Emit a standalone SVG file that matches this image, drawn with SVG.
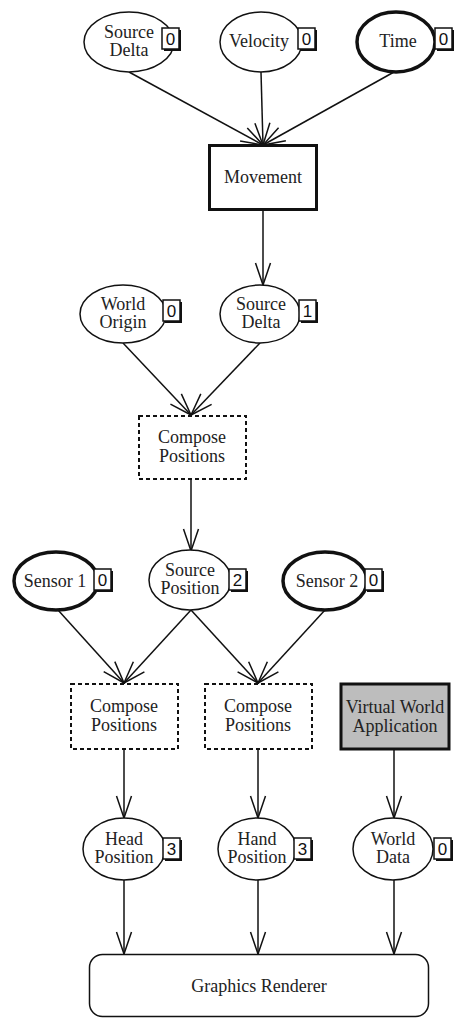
<svg xmlns="http://www.w3.org/2000/svg" width="455" height="1019" viewBox="0 0 455 1019">
  <defs>
    <style>
      .lbl { font-family: 'Liberation Serif', 'Times New Roman', serif; font-size: 18px; fill: #222; text-anchor: middle; }
      .num { font-family: 'Liberation Sans', Arial, sans-serif; font-size: 17px; fill: #111; text-anchor: middle; }
      .ell { fill: #fff; stroke: #111; stroke-width: 1.5; }
      .ell-bold { fill: #fff; stroke: #111; stroke-width: 3.5; }
      .box-dash { fill: #fff; stroke: #111; stroke-width: 2; stroke-dasharray: 4 3; }
      .edge { fill: none; stroke: #111; stroke-width: 1.5; marker-end: url(#arrow); }
      .badge-sh { fill: #111; }
      .badge { fill: #fff; stroke: #111; stroke-width: 1.5; }
    </style>
    <marker id="arrow" markerUnits="userSpaceOnUse" viewBox="-24 -9 26 18" refX="0" refY="0" markerWidth="26" markerHeight="18" orient="auto">
      <path d="M-22,-7.5 L0,0 L-22,7.5" fill="none" stroke="#111" stroke-width="1.5"/>
    </marker>
  </defs>

  <rect x="0" y="0" width="455" height="1019" fill="#fff"/>

  <!-- connectors -->
  <g id="edges">
    <line class="edge" x1="129" y1="72" x2="263" y2="145"/>
    <line class="edge" x1="261" y1="72" x2="263" y2="145"/>
    <line class="edge" x1="394" y1="72" x2="263" y2="145"/>
    <line class="edge" x1="263" y1="210" x2="263" y2="285"/>
    <line class="edge" x1="123" y1="343" x2="191" y2="415"/>
    <line class="edge" x1="260" y1="343" x2="191" y2="415"/>
    <line class="edge" x1="191" y1="479" x2="191" y2="551"/>
    <line class="edge" x1="58" y1="610" x2="124" y2="683"/>
    <line class="edge" x1="191" y1="610" x2="124" y2="683"/>
    <line class="edge" x1="191" y1="610" x2="258" y2="683"/>
    <line class="edge" x1="325" y1="610" x2="258" y2="683"/>
    <line class="edge" x1="124" y1="749" x2="124" y2="818"/>
    <line class="edge" x1="258" y1="749" x2="258" y2="818"/>
    <line class="edge" x1="394" y1="749" x2="394" y2="818"/>
    <line class="edge" x1="124" y1="880" x2="124" y2="954"/>
    <line class="edge" x1="258" y1="880" x2="258" y2="954"/>
    <line class="edge" x1="394" y1="880" x2="394" y2="954"/>
  </g>

  <!-- top row -->
  <g id="source-delta-0">
    <ellipse class="ell" cx="129" cy="42" rx="45" ry="30"/>
    <text class="lbl" x="129" y="38">Source</text>
    <text class="lbl" x="129" y="56">Delta</text>
    <rect class="badge-sh" x="164" y="30" width="17" height="21"/>
    <rect class="badge" x="162" y="28" width="17" height="21"/>
    <text class="num" x="170.5" y="45">0</text>
  </g>
  <g id="velocity">
    <ellipse class="ell" cx="261" cy="42" rx="41" ry="30"/>
    <text class="lbl" x="259" y="47">Velocity</text>
    <rect class="badge-sh" x="300" y="30" width="17" height="21"/>
    <rect class="badge" x="298" y="28" width="17" height="21"/>
    <text class="num" x="306.5" y="45">0</text>
  </g>
  <g id="time">
    <ellipse class="ell-bold" cx="396" cy="42" rx="39" ry="30"/>
    <text class="lbl" x="398" y="47">Time</text>
    <rect class="badge-sh" x="437" y="30" width="17" height="21"/>
    <rect class="badge" x="435" y="28" width="17" height="21"/>
    <text class="num" x="443.5" y="45">0</text>
  </g>

  <g id="movement">
    <rect x="209.5" y="145.5" width="107" height="64" fill="#fff" stroke="#111" stroke-width="3"/>
    <text class="lbl" x="263" y="183">Movement</text>
  </g>

  <!-- second row -->
  <g id="world-origin">
    <ellipse class="ell" cx="123" cy="314" rx="43" ry="29"/>
    <text class="lbl" x="123" y="310">World</text>
    <text class="lbl" x="123" y="328">Origin</text>
    <rect class="badge-sh" x="165" y="302" width="17" height="21"/>
    <rect class="badge" x="163" y="300" width="17" height="21"/>
    <text class="num" x="171.5" y="317">0</text>
  </g>
  <g id="source-delta-1">
    <ellipse class="ell" cx="260" cy="314" rx="40" ry="29"/>
    <text class="lbl" x="261" y="310">Source</text>
    <text class="lbl" x="261" y="328">Delta</text>
    <rect class="badge-sh" x="301" y="302" width="17" height="21"/>
    <rect class="badge" x="299" y="300" width="17" height="21"/>
    <text class="num" x="307.5" y="317">1</text>
  </g>

  <g id="compose-positions-0">
    <rect class="box-dash" x="139" y="416" width="107" height="63"/>
    <text class="lbl" x="192" y="443">Compose</text>
    <text class="lbl" x="192" y="462">Positions</text>
  </g>

  <!-- third row -->
  <g id="sensor-1">
    <ellipse class="ell-bold" cx="56" cy="581" rx="42" ry="29"/>
    <text class="lbl" x="55" y="587">Sensor 1</text>
    <rect class="badge-sh" x="96" y="571" width="17" height="21"/>
    <rect class="badge" x="94" y="569" width="17" height="21"/>
    <text class="num" x="102.5" y="586">0</text>
  </g>
  <g id="source-position">
    <ellipse class="ell" cx="190" cy="580" rx="41" ry="30"/>
    <text class="lbl" x="190" y="576">Source</text>
    <text class="lbl" x="190" y="594">Position</text>
    <rect class="badge-sh" x="231" y="571" width="17" height="21"/>
    <rect class="badge" x="229" y="569" width="17" height="21"/>
    <text class="num" x="237.5" y="586">2</text>
  </g>
  <g id="sensor-2">
    <ellipse class="ell-bold" cx="325" cy="581" rx="42" ry="29"/>
    <text class="lbl" x="327" y="587">Sensor 2</text>
    <rect class="badge-sh" x="367" y="571" width="17" height="21"/>
    <rect class="badge" x="365" y="569" width="17" height="21"/>
    <text class="num" x="373.5" y="586">0</text>
  </g>

  <!-- fourth row -->
  <g id="compose-positions-1">
    <rect class="box-dash" x="71" y="684" width="107" height="65"/>
    <text class="lbl" x="124" y="712">Compose</text>
    <text class="lbl" x="124" y="731">Positions</text>
  </g>
  <g id="compose-positions-2">
    <rect class="box-dash" x="205" y="684" width="107" height="65"/>
    <text class="lbl" x="258" y="712">Compose</text>
    <text class="lbl" x="258" y="731">Positions</text>
  </g>
  <g id="virtual-world-application">
    <rect x="341" y="684" width="108" height="65" fill="#bdbdbd" stroke="#111" stroke-width="3"/>
    <text class="lbl" x="395" y="713">Virtual World</text>
    <text class="lbl" x="395" y="732">Application</text>
  </g>

  <!-- fifth row -->
  <g id="head-position">
    <ellipse class="ell" cx="124" cy="849" rx="41" ry="31"/>
    <text class="lbl" x="124" y="845">Head</text>
    <text class="lbl" x="124" y="863">Position</text>
    <rect class="badge-sh" x="165" y="840" width="17" height="21"/>
    <rect class="badge" x="163" y="838" width="17" height="21"/>
    <text class="num" x="171.5" y="855">3</text>
  </g>
  <g id="hand-position">
    <ellipse class="ell" cx="257" cy="849" rx="39" ry="31"/>
    <text class="lbl" x="257" y="845">Hand</text>
    <text class="lbl" x="257" y="863">Position</text>
    <rect class="badge-sh" x="296" y="840" width="17" height="21"/>
    <rect class="badge" x="294" y="838" width="17" height="21"/>
    <text class="num" x="302.5" y="855">3</text>
  </g>
  <g id="world-data">
    <ellipse class="ell" cx="393" cy="849" rx="40" ry="31"/>
    <text class="lbl" x="393" y="845">World</text>
    <text class="lbl" x="393" y="863">Data</text>
    <rect class="badge-sh" x="436" y="840" width="17" height="21"/>
    <rect class="badge" x="434" y="838" width="17" height="21"/>
    <text class="num" x="442.5" y="855">0</text>
  </g>

  <g id="graphics-renderer">
    <rect x="89.5" y="954.5" width="339" height="62" rx="13" ry="13" fill="#fff" stroke="#111" stroke-width="1.5"/>
    <text class="lbl" x="259" y="992">Graphics Renderer</text>
  </g>
</svg>
